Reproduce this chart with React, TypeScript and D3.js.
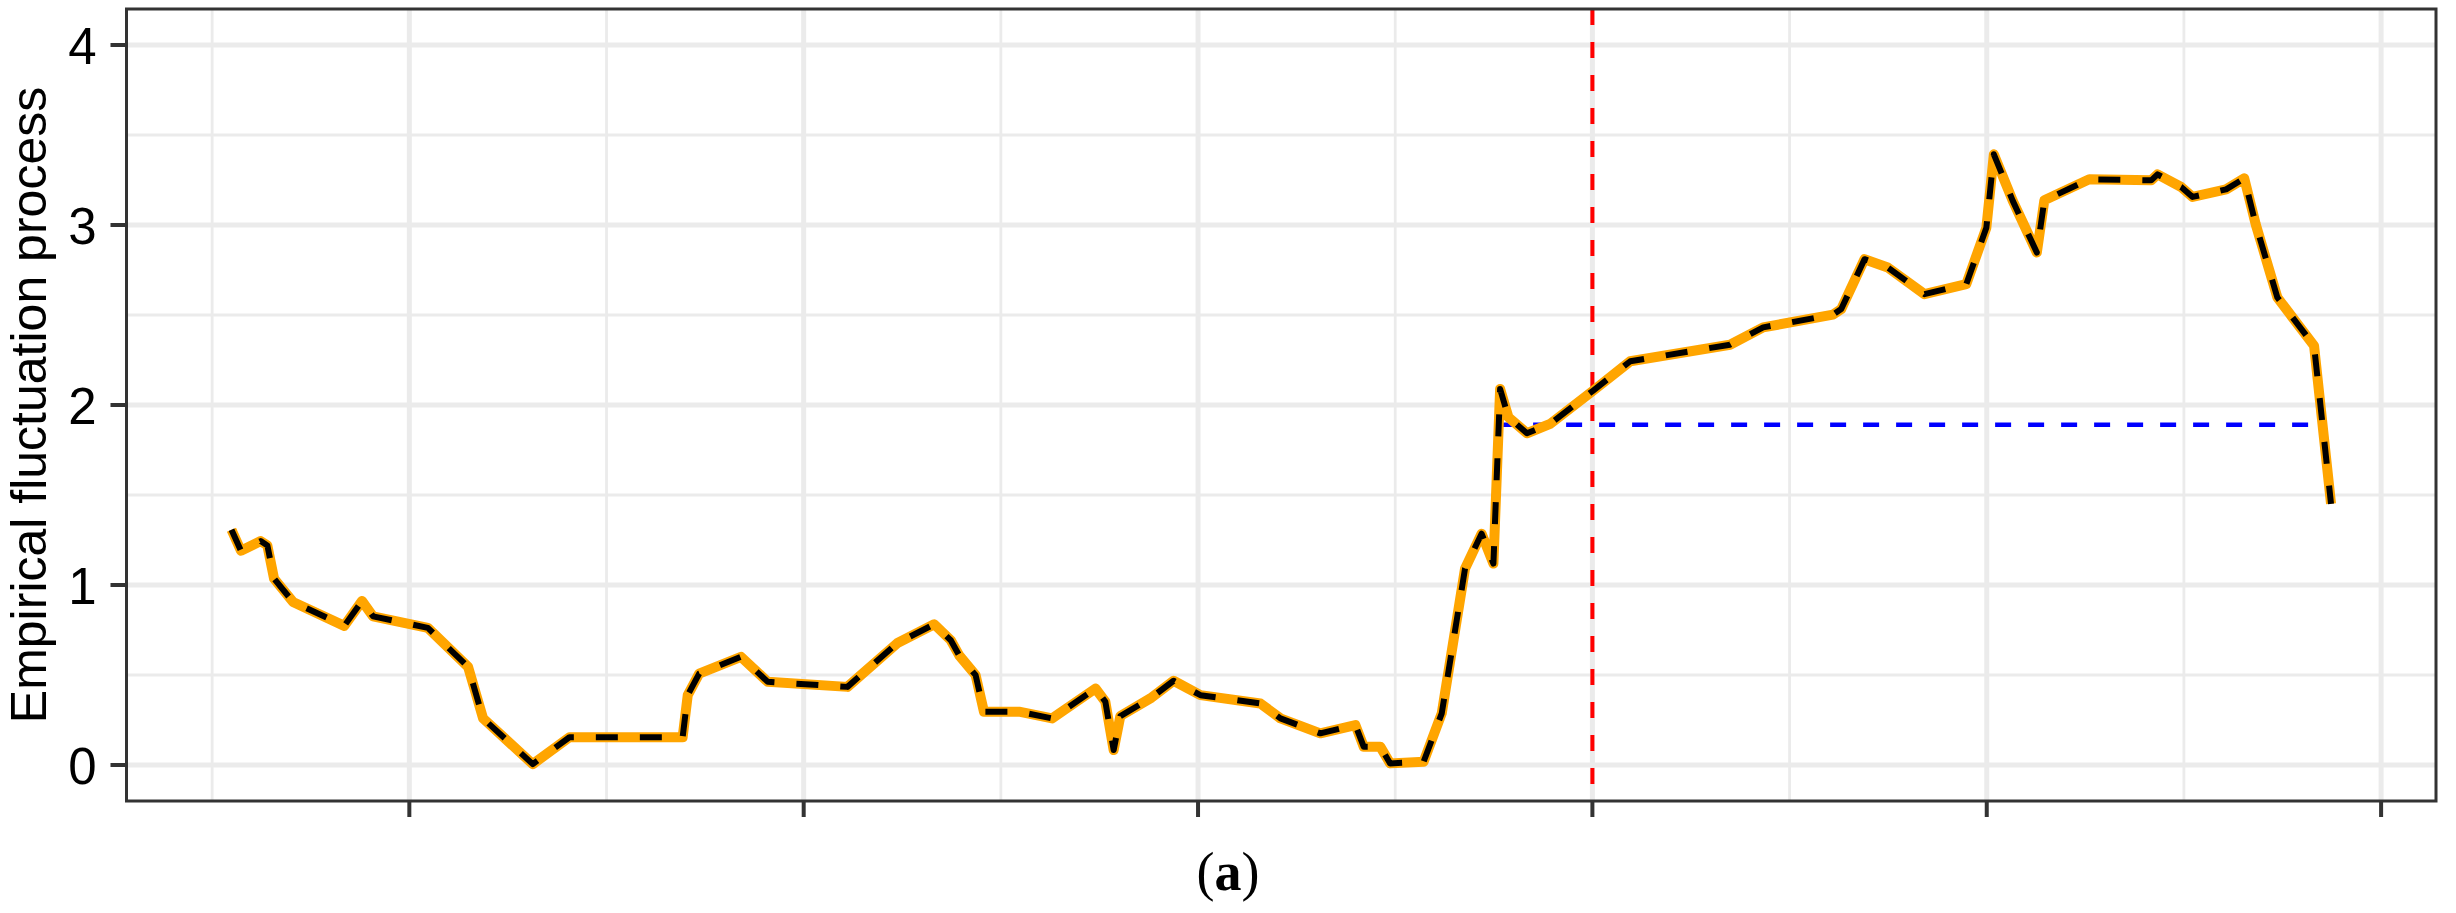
import React from 'react';
import * as d3 from 'd3';

// time index (x) and empirical fluctuation process (y)
const timeIdx = [
  0.549, 0.573, 0.623, 0.640, 0.657, 0.705, 0.835, 0.880, 0.908, 1.047,
  1.149, 1.187, 1.313, 1.406, 1.693, 1.706, 1.735, 1.841, 1.909, 2.111,
  2.238, 2.331, 2.373, 2.394, 2.436, 2.457, 2.546, 2.630, 2.740, 2.765,
  2.786, 2.803, 2.879, 2.938, 3.006, 3.158, 3.209, 3.310, 3.399, 3.420,
  3.462, 3.487, 3.572, 3.618, 3.677, 3.719, 3.749, 3.766, 3.787, 3.834,
  3.893, 4.002, 4.096, 4.349, 4.433, 4.610, 4.631, 4.690, 4.749, 4.842,
  4.948, 4.999, 5.018, 5.066, 5.127, 5.146, 5.260, 5.417, 5.433, 5.493,
  5.522, 5.607, 5.653, 5.682, 5.737, 5.830, 5.873,
];
const efpValues = [
  1.307, 1.190, 1.244, 1.220, 1.035, 0.906, 0.773, 0.911, 0.826, 0.762,
  0.545, 0.259, 0.005, 0.154, 0.154, 0.388, 0.508, 0.601, 0.462, 0.434,
  0.678, 0.782, 0.693, 0.610, 0.499, 0.296, 0.296, 0.259, 0.425, 0.351,
  0.083, 0.272, 0.370, 0.468, 0.388, 0.342, 0.259, 0.176, 0.222, 0.102,
  0.102, 0.009, 0.018, 0.287, 1.091, 1.285, 1.119, 2.089, 1.932, 1.843,
  1.895, 2.080, 2.243, 2.335, 2.431, 2.502, 2.533, 2.810, 2.764, 2.616,
  2.671, 2.985, 3.393, 3.134, 2.847, 3.137, 3.254, 3.248, 3.281, 3.211,
  3.156, 3.198, 3.259, 3.004, 2.597, 2.329, 1.451,
];

const breakPoint = 4.0;          // red vertical line
const boundaryLevel = 1.89;      // blue horizontal line
const boundarySpan = [3.766, 5.836];

const xMajor = [1, 2, 3, 4, 5, 6];
const xMinor = [0.5, 1.5, 2.5, 3.5, 4.5, 5.5];
const yMajor = [0, 1, 2, 3, 4];
const yMinor = [0.5, 1.5, 2.5, 3.5];

const W = 2456;
const H = 913;
const margin = { top: 9, right: 20, bottom: 112, left: 126.5 };

const App: React.FC = () => {
  const svgRef = React.useRef<SVGSVGElement>(null);

  React.useEffect(() => {
    if (!svgRef.current) return;
    const svg = d3.select(svgRef.current);
    svg.selectAll('*').remove();

    const left = margin.left;
    const right = W - margin.right;
    const top = margin.top;
    const bottom = H - margin.bottom;

    const [xa, xb] = d3.extent(timeIdx) as [number, number];
    const xPad = (xb - xa) * 0.05;
    const x = d3.scaleLinear().domain([xa - xPad, xb + xPad]).range([left, right]);
    const y = d3.scaleLinear().domain([-0.2, 4.2]).range([bottom, top]);

    const grid = svg.append('g');
    grid.selectAll('line.ymin').data(yMinor).enter().append('line')
      .attr('x1', left).attr('x2', right)
      .attr('y1', d => y(d)).attr('y2', d => y(d))
      .attr('stroke', '#EBEBEB').attr('stroke-width', 2.8);
    grid.selectAll('line.xmin').data(xMinor).enter().append('line')
      .attr('y1', top).attr('y2', bottom)
      .attr('x1', d => x(d)).attr('x2', d => x(d))
      .attr('stroke', '#EBEBEB').attr('stroke-width', 2.8);
    grid.selectAll('line.ymaj').data(yMajor).enter().append('line')
      .attr('x1', left).attr('x2', right)
      .attr('y1', d => y(d)).attr('y2', d => y(d))
      .attr('stroke', '#EBEBEB').attr('stroke-width', 5);
    grid.selectAll('line.xmaj').data(xMajor).enter().append('line')
      .attr('y1', top).attr('y2', bottom)
      .attr('x1', d => x(d)).attr('x2', d => x(d))
      .attr('stroke', '#EBEBEB').attr('stroke-width', 5);

    // reference lines
    svg.append('line')
      .attr('x1', x(breakPoint)).attr('x2', x(breakPoint))
      .attr('y1', top).attr('y2', bottom)
      .attr('stroke', '#FF0000').attr('stroke-width', 4)
      .attr('stroke-dasharray', '16,17');
    svg.append('line')
      .attr('x1', x(boundarySpan[0])).attr('x2', x(boundarySpan[1]))
      .attr('y1', y(boundaryLevel)).attr('y2', y(boundaryLevel))
      .attr('stroke', '#0000FF').attr('stroke-width', 4.5)
      .attr('stroke-dasharray', '16,17');

    const pts: [number, number][] = timeIdx.map((t, i) => [t, efpValues[i]]);
    const line = d3.line<[number, number]>().x(d => x(d[0])).y(d => y(d[1]));

    svg.append('path')
      .attr('d', line(pts)!)
      .attr('fill', 'none').attr('stroke', '#FFA500')
      .attr('stroke-width', 10).attr('stroke-linejoin', 'round');
    svg.append('path')
      .attr('d', line(pts)!)
      .attr('fill', 'none').attr('stroke', '#000000')
      .attr('stroke-width', 6).attr('stroke-linejoin', 'round')
      .attr('stroke-dasharray', '22,22');

    // panel border
    svg.append('rect')
      .attr('x', left).attr('y', top)
      .attr('width', right - left).attr('height', bottom - top)
      .attr('fill', 'none').attr('stroke', '#333333').attr('stroke-width', 3);

    // y axis ticks + labels
    const yAxis = svg.append('g');
    yAxis.selectAll('line').data(yMajor).enter().append('line')
      .attr('x1', left - 16).attr('x2', left)
      .attr('y1', d => y(d)).attr('y2', d => y(d))
      .attr('stroke', '#333333').attr('stroke-width', 4);
    yAxis.selectAll('text').data(yMajor).enter().append('text')
      .attr('x', left - 30).attr('y', d => y(d))
      .attr('dy', '0.38em')
      .attr('text-anchor', 'end')
      .style('font-family', '"Liberation Sans", Arial, sans-serif')
      .style('font-size', '51px')
      .style('fill', '#000')
      .text(d => d3.format('d')(d));

    // x axis ticks (no labels)
    svg.append('g').selectAll('line').data(xMajor).enter().append('line')
      .attr('x1', d => x(d)).attr('x2', d => x(d))
      .attr('y1', bottom).attr('y2', bottom + 16)
      .attr('stroke', '#333333').attr('stroke-width', 4);

    // axis title
    svg.append('text')
      .attr('transform', `translate(46,${(top + bottom) / 2}) rotate(-90)`)
      .attr('text-anchor', 'middle')
      .style('font-family', '"Liberation Sans", Arial, sans-serif')
      .style('font-size', '50px')
      .style('fill', '#000')
      .text('Empirical fluctuation process');

    // caption
    const cap = svg.append('text')
      .attr('x', W / 2).attr('y', 890)
      .attr('text-anchor', 'middle')
      .style('font-family', '"Liberation Serif", "DejaVu Serif", serif')
      .style('font-size', '54px')
      .style('fill', '#000');
    cap.append('tspan').text('(');
    cap.append('tspan').style('font-weight', 'bold').text('a');
    cap.append('tspan').text(')');
  }, []);

  return (
    <svg
      ref={svgRef}
      width={W}
      height={H}
      viewBox={`0 0 ${W} ${H}`}
      style={{ position: 'absolute', left: 0, top: 0, background: '#fff' }}
    />
  );
};

export default App;
